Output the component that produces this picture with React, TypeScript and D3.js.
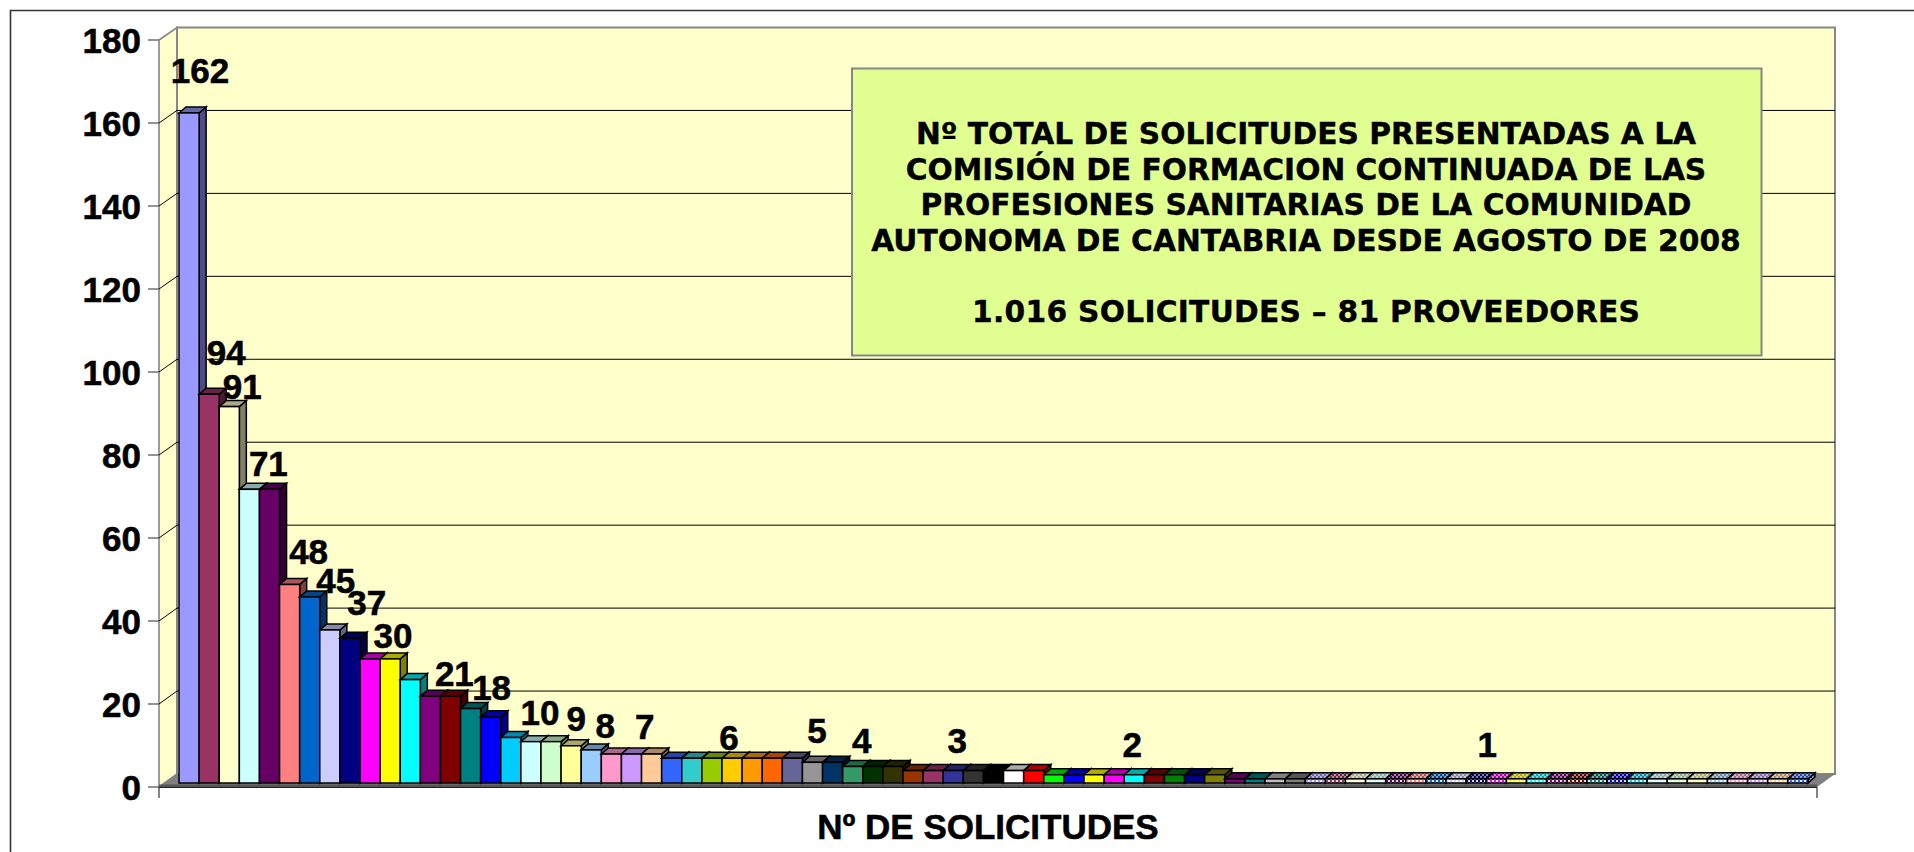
import React from "react";
import * as d3 from "d3";

const tickValues = [0, 20, 40, 60, 80, 100, 120, 140, 160, 180];

const solicitudes = [
  162, 94, 91, 71, 71, 48, 45, 37, 35, 30, 30, 25, 21, 21, 18, 16, 11, 10, 10, 9, 8, 7, 7, 7,
  6, 6, 6, 6, 6, 6, 6, 5, 5, 4, 4, 4, 3, 3, 3, 3, 3, 3, 3,
  2, 2, 2, 2, 2, 2, 2, 2, 2,
  1, 1, 1, 1, 1, 1, 1, 1, 1, 1, 1, 1, 1, 1, 1, 1, 1, 1, 1, 1, 1, 1, 1, 1, 1, 1, 1, 1, 1,
];

const palette = [
  "#9999FF", "#993366", "#FFFFCC", "#CCFFFF", "#660066", "#FF8080", "#0066CC", "#CCCCFF",
  "#000080", "#FF00FF", "#FFFF00", "#00FFFF", "#800080", "#800000", "#008080", "#0000FF",
  "#00CCFF", "#CCFFFF", "#CCFFCC", "#FFFF99", "#99CCFF", "#FF99CC", "#CC99FF", "#FFCC99",
  "#3366FF", "#33CCCC", "#99CC00", "#FFCC00", "#FF9900", "#FF6600", "#666699", "#969696",
  "#003366", "#339966", "#003300", "#333300", "#993300", "#993366", "#333399", "#333333",
  "#000000", "#FFFFFF", "#FF0000", "#00FF00", "#0000FF", "#FFFF00", "#FF00FF", "#00FFFF",
  "#800000", "#008000", "#000080", "#808000", "#800080", "#008080", "#C0C0C0", "#808080",
];

const labelBars = [0, 1, 2, 3, 5, 6, 7, 9, 12, 14, 17, 19, 20, 23, 27, 31, 34, 38, 47, 65];
const labelShiftX = [11, 17, 13, 19, 19, 26, 37, 23, 24, 21, 9, 5, 14, -7, -3, 4.5, -11, 4, -2, -9];
const labelShiftY = [-30, -29, -8, -13, -20, -4, -15, -11, -10, -8.5, -17, -15, -12, -15, -8, -19, -13.5, -18, -18, -22];

const boxLines = [
  "Nº TOTAL DE SOLICITUDES PRESENTADAS A LA",
  "COMISIÓN DE FORMACION CONTINUADA DE LAS",
  "PROFESIONES SANITARIAS DE LA COMUNIDAD",
  "AUTONOMA DE CANTABRIA DESDE AGOSTO DE 2008",
];
const boxSummary = "1.016 SOLICITUDES – 81 PROVEEDORES";
const axisTitle = "Nº DE SOLICITUDES";

const W = 1914;
const H = 852;
const frontLeft = 159;
const frontRight = 1817;
const wallDx = 18;
const barDx = 7;
const barDy = 6;
const arial = "'Liberation Sans', Arial, sans-serif";
const verdana = "'DejaVu Sans', Verdana, sans-serif";

const yFront = d3.scaleLinear().domain([0, 180]).range([787, 40]);
const yBack = d3.scaleLinear().domain([0, 180]).range([774, 27.5]);
const yBar = d3.scaleLinear().domain([0, 180]).range([783, 38.5]);
const x = d3
  .scaleBand<number>()
  .domain(solicitudes.map((_, i) => i))
  .range([179, 1808])
  .padding(0);

const shade = (c: string, k: number) => {
  const r = d3.rgb(c);
  return d3.rgb(r.r * k, r.g * k, r.b * k).formatHex();
};

const faces = [
  { key: "f", k: 1 },
  { key: "t", k: 0.67 },
  { key: "s", k: 0.5 },
];

const fillOf = (i: number, key: string, k: number) =>
  i >= palette.length ? `url(#p${i}${key})` : shade(palette[i % palette.length], k);

const heavy = { fontWeight: "bold", fill: "#000", stroke: "#000", strokeWidth: 0.55 } as const;

export default function App() {
  const bw = x.bandwidth();
  return (
    <svg
      width={W}
      height={H}
      viewBox={`0 0 ${W} ${H}`}
      style={{ position: "fixed", left: 0, top: 0, display: "block", background: "#fff" }}
    >
      <defs>
        {solicitudes.map((_, i) =>
          i < palette.length
            ? null
            : faces.map((f) => {
                const c = shade(palette[i % palette.length], f.k);
                const light = d3.interpolateRgb(c, "#ffffff")(f.key === "f" ? 0.85 : 0.5);
                return (
                  <pattern
                    key={f.key}
                    id={`p${i}${f.key}`}
                    width={4}
                    height={4}
                    patternUnits="userSpaceOnUse"
                  >
                    <rect width={4} height={4} fill={c} />
                    <rect x={0} y={0} width={2} height={2} fill={light} />
                    <rect x={2} y={2} width={2} height={2} fill={light} />
                  </pattern>
                );
              })
        )}
      </defs>

      <path d={`M10.5,${H} V10.5 H${W}`} fill="none" stroke="#333" strokeWidth={1.6} />

      {/* walls */}
      <polygon
        points={`${frontLeft},${yFront(180)} ${frontLeft + wallDx},${yBack(180)} ${frontLeft + wallDx},${yBack(0)} ${frontLeft},${yFront(0)}`}
        fill="#FFFFCC"
        stroke="#868686"
        strokeWidth={1.6}
      />
      <rect
        x={frontLeft + wallDx}
        y={yBack(180)}
        width={frontRight - frontLeft}
        height={yBack(0) - yBack(180)}
        fill="#FFFFCC"
        stroke="#868686"
        strokeWidth={2}
      />
      <polygon
        points={`${frontLeft},${yFront(0)} ${frontLeft + wallDx},${yBack(0)} ${frontRight + wallDx},${yBack(0)} ${frontRight},${yFront(0)}`}
        fill="#808080"
      />

      {/* gridlines and y axis */}
      {tickValues.map((t) => (
        <g key={t}>
          {t > 0 && t < 180 && (
            <>
              <line x1={frontLeft + wallDx} x2={frontRight + wallDx} y1={yBack(t)} y2={yBack(t)} stroke="#000" strokeWidth={1} />
              <line x1={frontLeft} x2={frontLeft + wallDx} y1={yFront(t)} y2={yBack(t)} stroke="#000" strokeWidth={1} />
            </>
          )}
          <line x1={148} x2={frontLeft} y1={yFront(t)} y2={yFront(t)} stroke="#666" strokeWidth={1.4} />
          <text
            x={141}
            y={yFront(t) + 12.5}
            textAnchor="end"
            fontFamily={arial}
            fontSize={35}
            {...heavy}
          >
            {t}
          </text>
        </g>
      ))}

      <rect x={frontLeft} y={784.5} width={frontRight - frontLeft} height={3} fill="#555" />
      <line x1={frontLeft} x2={frontRight} y1={787.5} y2={787.5} stroke="#222" strokeWidth={1.2} />
      <line x1={frontLeft} x2={frontLeft} y1={787} y2={798} stroke="#333" strokeWidth={1.2} />
      <line x1={frontRight} x2={frontRight} y1={787} y2={798} stroke="#333" strokeWidth={1.2} />

      {/* bars */}
      {solicitudes.map((v, i) => {
        const x0 = x(i)!;
        const x1 = x0 + bw;
        const y0 = yBar(v);
        const yb = yBar(0);
        return (
          <g key={i} stroke="#000" strokeWidth={1.5} strokeLinejoin="miter">
            <polygon
              points={`${x1},${y0} ${x1 + barDx},${y0 - barDy} ${x1 + barDx},${yb - barDy} ${x1},${yb}`}
              fill={fillOf(i, "s", 0.5)}
            />
            <polygon
              points={`${x0},${y0} ${x0 + barDx},${y0 - barDy} ${x1 + barDx},${y0 - barDy} ${x1},${y0}`}
              fill={fillOf(i, "t", 0.67)}
            />
            <rect x={x0} y={y0} width={bw} height={yb - y0} fill={fillOf(i, "f", 1)} />
          </g>
        );
      })}

      {/* value labels */}
      {labelBars.map((b, n) => (
        <text
          key={b}
          x={x(b)! + bw / 2 + labelShiftX[n]}
          y={yBar(solicitudes[b]) + labelShiftY[n]}
          textAnchor="middle"
          fontFamily={arial}
          fontSize={35}
          {...heavy}
        >
          {solicitudes[b]}
        </text>
      ))}

      {/* text box */}
      <rect x={852} y={68.5} width={909.5} height={287} fill="#E1FF91" stroke="#868686" strokeWidth={2} />
      {boxLines.map((l, i) => (
        <text
          key={i}
          x={1306}
          y={144 + i * 35.5}
          textAnchor="middle"
          fontFamily={verdana}
          fontSize={29.7}
          {...heavy}
          strokeWidth={0.4}
        >
          {l}
        </text>
      ))}
      <text x={1306} y={322} textAnchor="middle" fontFamily={verdana} fontSize={29.7} textLength={668} {...heavy} strokeWidth={0.4}>
        {boxSummary}
      </text>

      <text x={988} y={839} textAnchor="middle" fontFamily={arial} fontSize={35} {...heavy}>
        {axisTitle}
      </text>
    </svg>
  );
}
